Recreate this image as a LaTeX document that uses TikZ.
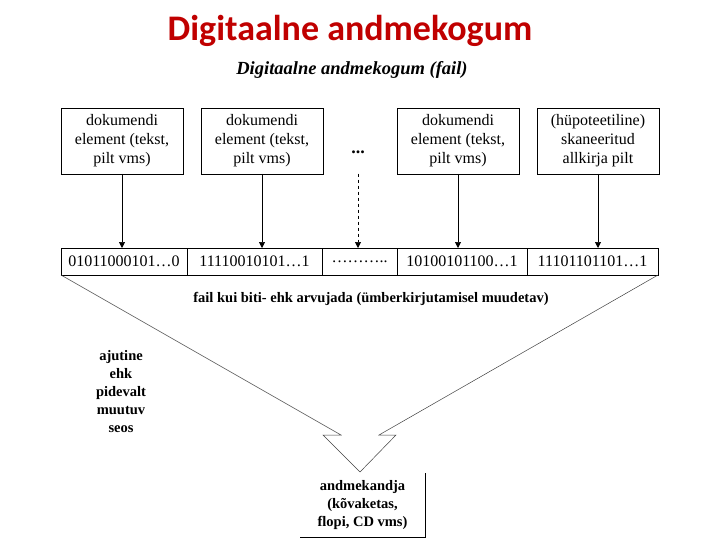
\documentclass[tikz,border=0pt]{standalone}
\usepackage{fontspec}
\setmainfont{Liberation Serif}
\newfontfamily\titlefont{Carlito}
\usetikzlibrary{arrows.meta,positioning}
\definecolor{titlered}{HTML}{C00000}

\begin{document}
\begin{tikzpicture}[x=1pt,y=-1pt,
  node distance=18pt,
  elem/.style={draw,align=center,minimum width=122pt,minimum height=66pt,
               inner sep=2pt,outer sep=0pt,font=\fontsize{16}{19}\selectfont},
  cell/.style={draw,minimum height=27pt,inner sep=0pt,outer sep=0pt,
               font=\fontsize{16}{19}\selectfont},
  lbl/.style={align=center,font=\fontsize{14.5}{18}\selectfont\bfseries},
  arr/.style={-{Triangle[length=6pt,width=6pt]},line width=0.7pt},
  wire/.style={line width=0.5pt,black!75}
]
\useasboundingbox (0,0) rectangle (720,540);

% titles
\node[font=\titlefont\bfseries\fontsize{36}{42}\selectfont,text=titlered] (title) at (350,31) {Digitaalne andmekogum};
\node[font=\fontsize{18.5}{22}\selectfont\bfseries\itshape] (sub) at (352,70) {Digitaalne andmekogum (fail)};

% document elements
\node[elem] (e1) at (122,141) {dokumendi\\element (tekst,\\pilt vms)};
\node[elem,right=of e1] (e2) {dokumendi\\element (tekst,\\pilt vms)};
\node[elem,right=74pt of e2] (e3) {dokumendi\\element (tekst,\\pilt vms)};
\node[elem,right=of e3] (e4) {(hüpoteetiline)\\skaneeritud\\allkirja pilt};
\node[font=\fontsize{18}{20}\selectfont\bfseries,inner sep=0pt] (dots) at (358,152) {...};

% bit strings
\node[cell,minimum width=126pt] (c1) at (124,261.5) {01011000101\dots0};
\node[cell,minimum width=135pt,right=0pt of c1] (c2) {11110010101\dots1};
\node[cell,minimum width=75pt,right=0pt of c2] (c3) {\dots\dots\dots..};
\node[cell,minimum width=130pt,right=0pt of c3] (c4) {10100101100\dots1};
\node[cell,minimum width=131pt,right=0pt of c4] (c5) {11101101101\dots1};

\draw[arr] (e1) -- (e1 |- c1.north);
\draw[arr] (e2) -- (e2 |- c2.north);
\draw[arr,dashed,shorten <=20pt] (dots.south) -- (dots |- c3.north);
\draw[arr] (e3) -- (e3 |- c4.north);
\draw[arr] (e4) -- (e4 |- c5.north);

\node[lbl] (note) at (371,299) {fail kui biti- ehk arvujada (ümberkirjutamisel muudetav)};
\node[lbl] (seos) at (121,392) {ajutine\\ehk\\pidevalt\\muutuv\\seos};

% storage medium
\node[lbl,minimum width=125pt,minimum height=64pt,inner sep=0pt,outer sep=0pt] (store) at (362.5,505) {andmekandja\\(kõvaketas,\\flopi, CD vms)};
\draw (store.north east) -- (store.south east) -- (store.south west);

\coordinate (apex) at (360,472);
\draw[wire] (c1.south west) -- (341,435) -- (323,435) -- (apex);
\draw[wire] (c5.south east) -- (379,435) -- (396,435) -- (apex);
\end{tikzpicture}
\end{document}
